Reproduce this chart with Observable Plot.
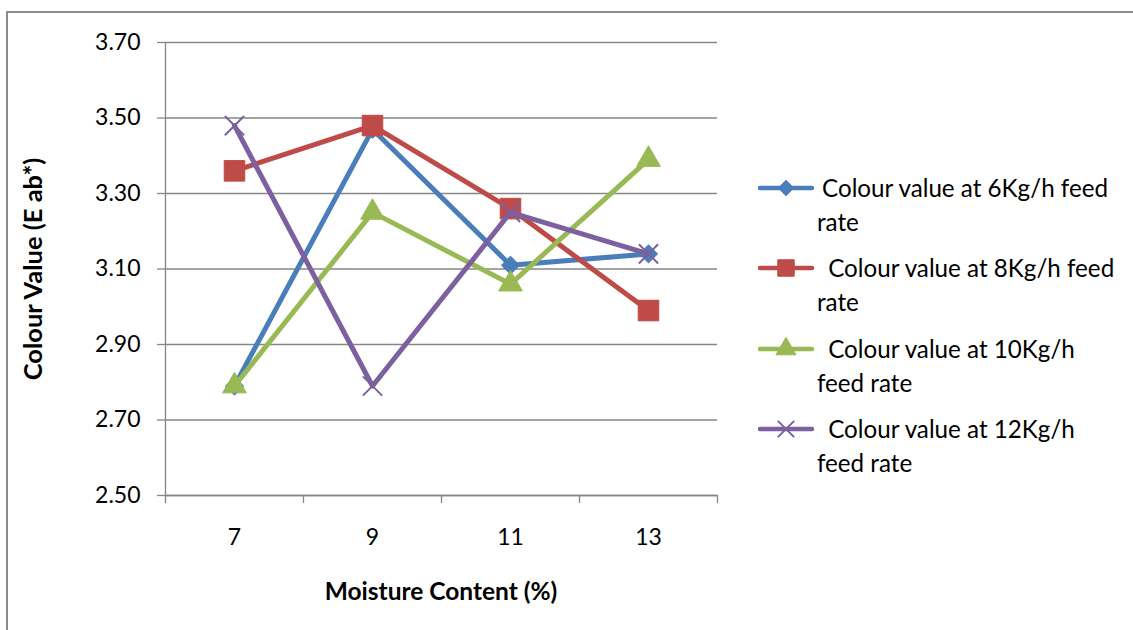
<!DOCTYPE html>
<html>
<head>
<meta charset="utf-8">
<script src="https://cdn.jsdelivr.net/npm/d3@7"></script>
<script src="https://cdn.jsdelivr.net/npm/@observablehq/plot@0.6"></script>
<style>
  html, body { margin: 0; padding: 0; background: #fff; overflow: hidden; }
  #chart { position: relative; width: 1133px; height: 630px; overflow: hidden; font-family: Lato, "Open Sans", sans-serif; color: #000; }
  #frame { position: absolute; left: 6px; top: 11px; width: 1200px; height: 700px; border: 2.5px solid #8c8c8c; box-sizing: border-box; }
  #plot { position: absolute; left: 0; top: 0; }
  .axis-title { position: absolute; font-weight: bold; font-size: 24.5px; white-space: nowrap; }
  #xtitle { left: 441px; top: 590px; transform: translate(-50%, -50%); }
  #ytitle { left: 32px; top: 269px; transform: translate(-50%, -50%) rotate(-90deg); font-size: 25.5px; }
  #legend { position: absolute; left: 758px; top: 171px; }
  .entry { position: relative; height: 80.3px; }
  .entry svg { position: absolute; left: 0; top: 0; }
  .entry .lbl { margin-left: 59px; text-indent: 5px; line-height: 34px; font-size: 24.2px; white-space: pre-wrap; }
</style>
</head>
<body>
<div id="chart">
  <div id="frame"></div>
  <div id="plot"></div>
  <div class="axis-title" id="xtitle">Moisture Content (%)</div>
  <div class="axis-title" id="ytitle">Colour Value (E ab*)</div>
  <div id="legend"></div>
</div>
<script>
// Moisture content levels (%) on the x axis
const moisture = [7, 9, 11, 13];

// Colour value (E ab*) for each feed rate
const rate6  = [2.79, 3.47, 3.11, 3.14];
const rate8  = [3.36, 3.48, 3.26, 2.99];
const rate10 = [2.79, 3.25, 3.06, 3.39];
const rate12 = [3.48, 2.79, 3.25, 3.14];

// Series names as shown in the legend (line breaks where the legend wraps)
const seriesNames = [
  "Colour value at 6Kg/h feed\nrate",
  " Colour value at 8Kg/h feed\nrate",
  " Colour value at 10Kg/h\nfeed rate",
  " Colour value at 12Kg/h\nfeed rate"
];

// Axis ticks
const yTicks = [2.5, 2.7, 2.9, 3.1, 3.3, 3.5, 3.7];
const xTicks = [7, 9, 11, 13];
const xCategoryEdges = [6, 8, 10, 12, 14];

// Styling per series
const seriesStyle = [
  {color: "#4a7ebb", symbol: "diamond2", r: 8.2, filled: true},
  {color: "#be4b48", symbol: "square", r: 11.6, filled: true},
  {color: "#98b954", symbol: "triangle", r: 8.8, filled: true},
  {color: "#7d60a0", symbol: "times", r: 8.8, filled: false}
];

const seriesValues = [rate6, rate8, rate10, rate12];
const rows = seriesValues.map((vals, i) =>
  moisture.map((m, j) => ({series: i, moisture: m, value: vals[j]}))
);

const axisGray = "#868686";
const tickFont = 23;

const marks = [
  Plot.gridY(yTicks, {stroke: axisGray, strokeOpacity: 1, strokeWidth: 1.3}),
  Plot.ruleX([xCategoryEdges[0]], {stroke: axisGray, strokeWidth: 1.3}),
  Plot.ruleY([yTicks[0]], {stroke: axisGray, strokeWidth: 1.3}),
  Plot.axisY(yTicks, {
    tickSize: 8, tickPadding: 17, tickFormat: d3.format(".2f"),
    stroke: axisGray, strokeWidth: 1.3, fill: "#000", fontSize: tickFont, label: null
  }),
  Plot.axisX(xCategoryEdges, {
    tickSize: 8, tickFormat: () => "", stroke: axisGray, strokeWidth: 1.3, label: null
  }),
  Plot.axisX(xTicks, {
    tickSize: 0, tickPadding: 33, fill: "#000", fontSize: tickFont, label: null
  })
];

rows.forEach((data, i) => {
  const s = seriesStyle[i];
  marks.push(
    Plot.line(data, {x: "moisture", y: "value", stroke: s.color, strokeWidth: 5, strokeLinejoin: "round", strokeLinecap: "round"}),
    s.filled
      ? Plot.dot(data, {x: "moisture", y: "value", symbol: s.symbol, r: s.r, fill: s.color, stroke: s.color, strokeWidth: 1})
      : Plot.dot(data, {x: "moisture", y: "value", symbol: s.symbol, r: s.r, fill: "none", stroke: s.color, strokeWidth: 2})
  );
});

const chart = Plot.plot({
  width: 1133,
  height: 630,
  marginLeft: 165,
  marginRight: 416,
  marginTop: 42,
  marginBottom: 135,
  x: {type: "linear", domain: [xCategoryEdges[0], xCategoryEdges[xCategoryEdges.length - 1]]},
  y: {domain: [yTicks[0], yTicks[yTicks.length - 1]]},
  style: {fontFamily: "Lato, 'Open Sans', sans-serif", background: "transparent", color: "#000"},
  marks
});
document.getElementById("plot").appendChild(chart);

// Legend: line sample with marker, then the wrapped series name
const symbolTypes = {
  diamond2: d3.symbolDiamond2, square: d3.symbolSquare,
  triangle: d3.symbolTriangle, times: d3.symbolTimes
};
const legend = d3.select("#legend");
seriesNames.forEach((name, i) => {
  const s = seriesStyle[i];
  const entry = legend.append("div").attr("class", "entry");
  const svg = entry.append("svg").attr("width", 58).attr("height", 34);
  svg.append("line")
    .attr("x1", 2).attr("x2", 54).attr("y1", 17).attr("y2", 17)
    .attr("stroke", s.color).attr("stroke-width", 4.5).attr("stroke-linecap", "round");
  const scale = i === 1 ? 0.8 : 0.85;
  const path = d3.symbol(symbolTypes[s.symbol], Math.PI * (s.r * scale) ** 2)();
  svg.append("path")
    .attr("d", path)
    .attr("transform", "translate(28,17)")
    .attr("fill", s.filled ? s.color : "none")
    .attr("stroke", s.color)
    .attr("stroke-width", s.filled ? 1 : 2);
  entry.append("div").attr("class", "lbl").text(name);
});
</script>
</body>
</html>
